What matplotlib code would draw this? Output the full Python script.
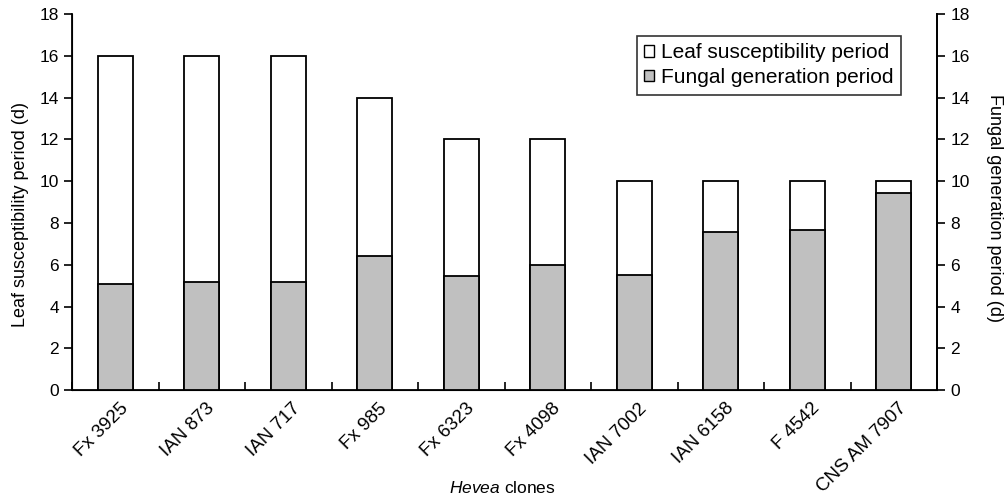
import matplotlib
matplotlib.use("Agg")
import matplotlib.pyplot as plt
import matplotlib.transforms as mtransforms
import numpy as np

clones = ["Fx 3925", "IAN 873", "IAN 717", "Fx 985", "Fx 6323", "Fx 4098",
          "IAN 7002", "IAN 6158", "F 4542", "CNS AM 7907"]
leaf_period = [16, 16, 16, 14, 12, 12, 10, 10, 10, 10]
fungal_period = [5.08, 5.19, 5.16, 6.4, 5.48, 6.01, 5.52, 7.58, 7.64, 9.42]
yticks = [0, 2, 4, 6, 8, 10, 12, 14, 16, 18]

plt.rcParams['font.family'] = ['Liberation Sans', 'DejaVu Sans']
plt.rcParams['mathtext.fontset'] = 'custom'
plt.rcParams['mathtext.it'] = 'Liberation Sans:italic'
plt.rcParams['mathtext.rm'] = 'Liberation Sans'

fig = plt.figure(figsize=(10.07, 4.97), dpi=100)
ax = fig.add_axes([0.0715, 0.215, 0.859, 0.757])
x = np.arange(len(clones))
w = 0.4
ax.bar(x, leaf_period, width=w, color='white', edgecolor='black', linewidth=1.3,
       label='Leaf susceptibility period', zorder=2)
ax.bar(x, fungal_period, width=w, color='#c0c0c0', edgecolor='black', linewidth=1.3,
       label='Fungal generation period', zorder=3)

ax.set_xlim(-0.5, len(clones) - 0.5)
ax.set_ylim(0, 18)
ax.set_yticks(yticks)
ax.tick_params(axis='y', direction='out', length=6, width=1.2, labelsize=12.5)
ax.set_xticks(x)
ax.set_xticklabels(clones, rotation=45, ha='right', rotation_mode='anchor', fontsize=13.5)
ax.tick_params(axis='x', which='major', length=0, pad=7)
offset = mtransforms.ScaledTranslation(4 / 100, 0, fig.dpi_scale_trans)
for lab in ax.get_xticklabels():
    lab.set_transform(lab.get_transform() + offset)
ax.set_xticks(np.arange(len(clones) + 1) - 0.5, minor=True)
ax.tick_params(axis='x', which='minor', direction='in', length=6, width=1.2)
ax.spines['top'].set_visible(False)
for s in ['left', 'right', 'bottom']:
    ax.spines[s].set_linewidth(1.3)
ax.set_ylabel('Leaf susceptibility period (d)', fontsize=13)
ax.yaxis.label.set_verticalalignment('center')
ax.yaxis.set_label_coords(-0.060, 0.467)
ax.set_xlabel(r'$\mathit{Hevea}$ clones', fontsize=12.5)
ax.xaxis.label.set_verticalalignment('center')
ax.xaxis.set_label_coords(0.497, -0.261)

ax2 = ax.twinx()
ax2.set_ylim(0, 18)
ax2.set_yticks(yticks)
ax2.tick_params(axis='y', direction='out', length=6, width=1.2, labelsize=12.5)
ax2.spines['top'].set_visible(False)
ax2.spines['right'].set_linewidth(1.3)
ax2.set_ylabel('Fungal generation period (d)', fontsize=13, rotation=-90)
ax2.yaxis.label.set_verticalalignment('center')
ax2.yaxis.label.set_horizontalalignment('center')
ax2.yaxis.set_label_coords(1.067, 0.484)

leg = ax.legend(loc='upper right', bbox_to_anchor=(0.958, 0.941), fontsize=15,
                frameon=True, fancybox=False, edgecolor='black', handlelength=0.45,
                handleheight=0.45, handletextpad=0.35, borderpad=0.35, labelspacing=0.28,
                borderaxespad=0)
leg.get_frame().set_linewidth(1.2)
for h in leg.legend_handles:
    h.set_linewidth(1.0)

fig.savefig('out.png', dpi=100)
